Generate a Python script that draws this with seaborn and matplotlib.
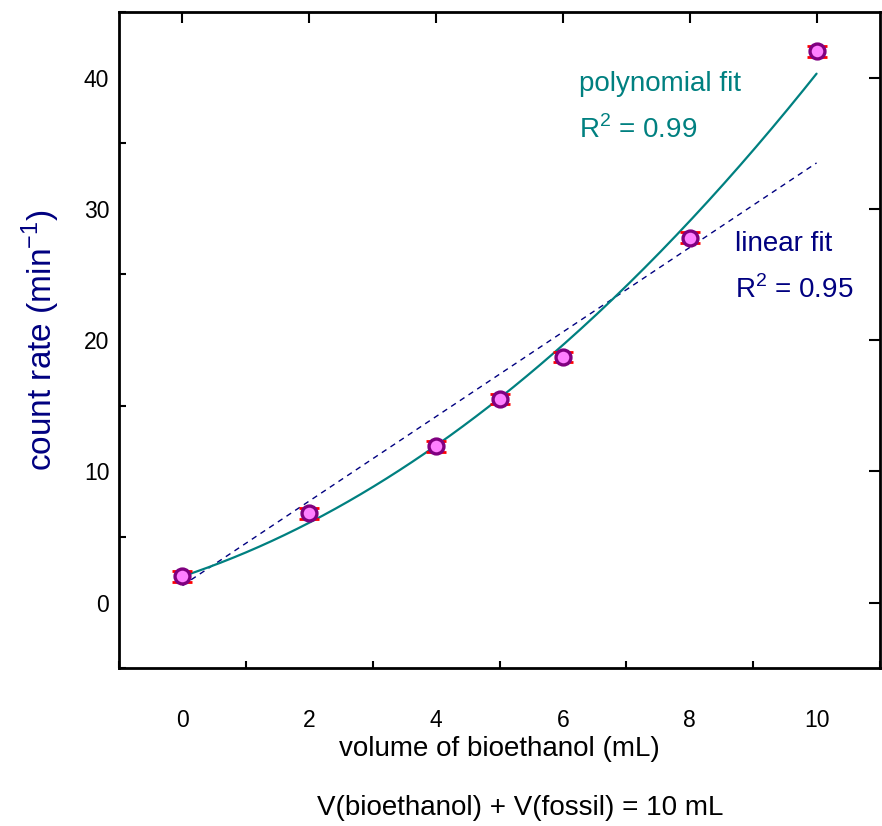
import numpy as np
import pandas as pd
import matplotlib
matplotlib.use('Agg')
import matplotlib.pyplot as plt
from matplotlib.ticker import MultipleLocator
import seaborn as sns

volume = [0, 2, 4, 5, 6, 8, 10]
count_rate = [2.0, 6.8, 11.9, 15.5, 18.7, 27.8, 42.0]
count_err = [0.4, 0.4, 0.4, 0.4, 0.4, 0.4, 0.4]

# fit coefficients (highest power first), estimated from the drawn curves
linear_coef = [3.22, 1.3]
poly_coef = [0.223, 1.6, 2.0]

sns.set_theme(style='white')
plt.rcParams['font.family'] = ['Liberation Sans', 'DejaVu Sans']
plt.rcParams['mathtext.fontset'] = 'custom'
plt.rcParams['mathtext.rm'] = 'Liberation Sans'
plt.rcParams['text.color'] = 'black'
plt.rcParams['axes.labelcolor'] = 'black'
plt.rcParams['xtick.color'] = 'black'
plt.rcParams['ytick.color'] = 'black'

df = pd.DataFrame({'volume': volume, 'rate': count_rate, 'err': count_err})
xfit = np.linspace(0, 10, 200)
fits = pd.DataFrame({
    'x': xfit,
    'linear': np.polyval(linear_coef, xfit),
    'poly': np.polyval(poly_coef, xfit),
})

fig = plt.figure(figsize=(8.82, 8.26), dpi=100)
ax = fig.add_axes([0.135, 0.191, 0.8627, 0.7945])

sns.lineplot(data=fits, x='x', y='linear', ax=ax, color='#000080', lw=1.0,
             linestyle=(0, (4, 3.5)))
sns.lineplot(data=fits, x='x', y='poly', ax=ax, color='#008080', lw=1.6)
ax.errorbar(df['volume'], df['rate'], yerr=df['err'], fmt='none',
            ecolor='red', elinewidth=1.2, capsize=7, capthick=2, zorder=3)
sns.scatterplot(data=df, x='volume', y='rate', ax=ax, s=115, color='#ff80ff',
                edgecolor='#800080', linewidth=2.4, zorder=4)

ax.set_xlim(-1, 11)
ax.set_ylim(-5, 45)
ax.xaxis.set_major_locator(MultipleLocator(2))
ax.xaxis.set_minor_locator(MultipleLocator(1))
ax.yaxis.set_major_locator(MultipleLocator(10))
ax.yaxis.set_minor_locator(MultipleLocator(5))
ax.tick_params(which='major', direction='in', length=8, width=1.5,
               labelsize=16.5, top=True, right=True)
ax.tick_params(axis='x', which='major', pad=29)
ax.tick_params(axis='y', which='major', pad=7)
ax.tick_params(which='minor', direction='in', length=5, width=1.5,
               bottom=True, left=True, top=False, right=False)
for sp in ax.spines.values():
    sp.set_linewidth(2)
    sp.set_color('black')

ax.set_xlabel('volume of bioethanol (mL)', fontsize=20, labelpad=3)
ax.set_ylabel('count rate (min$^{-1}$)', fontsize=24, color='#000080', labelpad=16)

ax.text(6.26, 39.5, 'polynomial fit', color='#008080', fontsize=20, va='center')
ax.text(6.26, 36.0, 'R$^{2}$ = 0.99', color='#008080', fontsize=20, va='center')
ax.text(8.71, 27.3, 'linear fit', color='#000080', fontsize=20, va='center')
ax.text(8.71, 23.8, 'R$^{2}$ = 0.95', color='#000080', fontsize=20, va='center')

fig.text(0.59, 0.022, 'V(bioethanol) + V(fossil) = 10 mL', fontsize=20,
         ha='center', va='center')

fig.savefig('out.png', dpi=100)
